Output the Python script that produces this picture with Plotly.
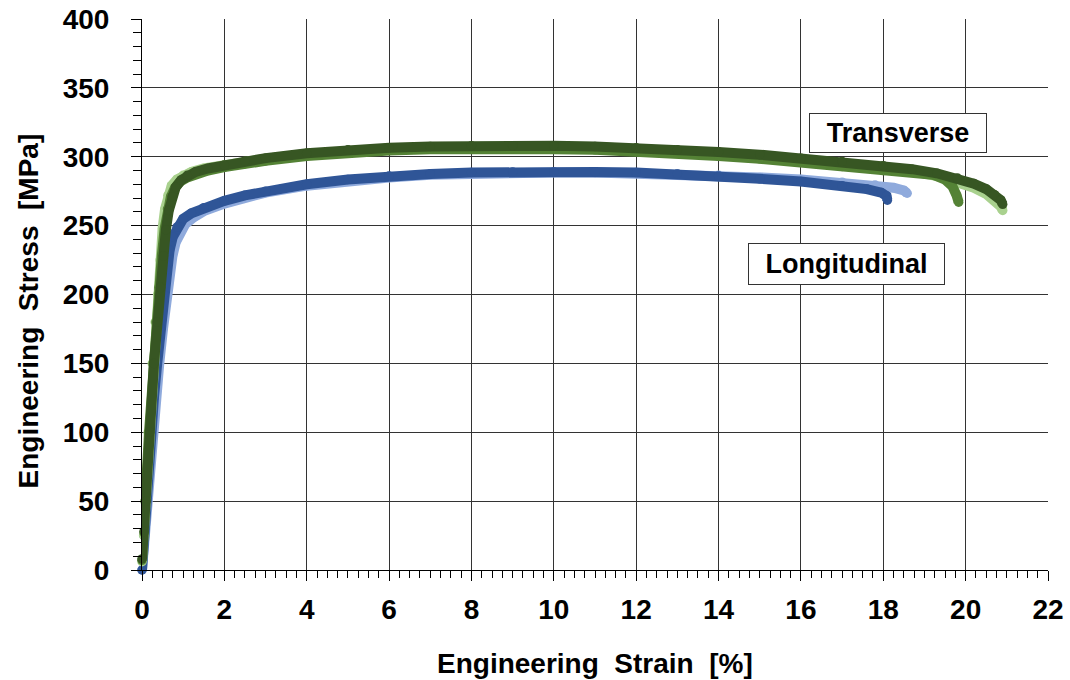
import plotly.graph_objects as go

# Longitudinal specimens (strain in %, stress in MPa)
long_a_strain = [0, 0.05, 0.1, 0.16, 0.21, 0.29, 0.37, 0.45, 0.53, 0.6, 0.67, 0.75, 0.85, 1.0, 1.2, 1.5,
                 2.0, 2.5, 3, 4, 5, 6, 7, 8, 9, 10, 11, 12, 13, 14, 15, 16, 17, 17.6, 17.95, 18.08, 18.1]
long_a_stress = [0, 25, 50, 75, 100, 125, 150, 175, 200, 218, 232, 242, 249, 255, 259, 263,
                 268, 272, 275, 280, 283.5, 286, 287.5, 288.5, 289, 289, 289, 288.5, 287.5, 286, 284, 282, 279,
                 276.5, 274, 271.5, 268.5]

long_b_strain = [0, 0.06, 0.12, 0.18, 0.24, 0.33, 0.42, 0.51, 0.6, 0.67, 0.74, 0.82, 0.92, 1.05, 1.25, 1.5,
                 2.0, 2.5, 3, 4, 5, 6, 7, 8, 9, 10, 11, 12, 13, 14, 15, 16, 17, 17.8, 18.25, 18.5, 18.58]
long_b_stress = [0, 25, 50, 75, 100, 125, 150, 175, 200, 215, 228, 238, 245, 251, 256, 260.5,
                 266, 270.5, 274, 279, 282.5, 285, 287, 288, 288.5, 288.5, 288.5, 288, 287.5, 286.5, 285, 283.5,
                 281.5, 279.5, 277.5, 275.5, 273.5]

# Transverse specimens
trans_a_strain = [0, 0.05, 0.1, 0.19, 0.29, 0.37, 0.45, 0.52, 0.58, 0.65, 0.73, 0.82, 0.95, 1.1, 1.3, 1.6,
                  2.0, 2.5, 3, 4, 5, 6, 7, 8, 9, 10, 11, 12, 13, 14, 15, 16, 17, 18, 18.7, 19.3, 19.8,
                  20.2, 20.5, 20.7, 20.85, 20.9]
trans_a_stress = [8, 28, 50, 100, 150, 180, 205, 228, 247, 261, 271, 278, 283, 286.5, 289, 291.5,
                  294, 297, 299, 302.5, 305, 306.5, 307.5, 308, 308, 308, 307.5, 306.5, 305, 303.5, 301.5, 299,
                  296.5, 293.5, 291, 288, 284.5, 280.5, 276.5, 272.5, 268.5, 265.5]

trans_b_strain = [0, 0.05, 0.08, 0.17, 0.27, 0.34, 0.41, 0.48, 0.55, 0.62, 0.7, 0.8, 0.93, 1.1, 1.3, 1.6,
                  2.0, 2.5, 3, 4, 5, 6, 7, 8, 9, 10, 11, 12, 13, 14, 15, 16, 17, 18, 18.7, 19.2, 19.5,
                  19.68, 19.78, 19.83]
trans_b_stress = [7, 27, 50, 100, 150, 180, 205, 228, 248, 262, 271, 277.5, 282, 285, 287.5, 290,
                  292.5, 295, 297, 300.5, 303, 304.5, 305.5, 306, 306, 305.5, 305, 304, 302.5, 300.5, 298.5,
                  296, 293, 290, 289, 287, 283.5, 278.5, 272, 267]

trans_c_strain = [0, 0.04, 0.07, 0.15, 0.25, 0.32, 0.38, 0.44, 0.5, 0.56, 0.63, 0.72, 0.85, 1.0, 1.2, 1.5,
                  2.0, 2.5, 3, 4, 5, 6, 7, 8, 9, 10, 11, 12, 13, 14, 15, 16, 17, 18, 18.7, 19.3, 19.8,
                  20.2, 20.5, 20.7, 20.85, 20.9]
trans_c_stress = [6, 25, 50, 100, 150, 180, 200, 225, 248, 262, 272, 279, 283.5, 286.5, 289, 291.5,
                  294, 296.5, 298.5, 302, 304.5, 306, 307, 307.5, 307.5, 307.5, 307, 306, 304.5, 302.5, 300.5,
                  298, 295.5, 292.5, 289.5, 286, 282, 277.5, 273, 268.5, 264, 261]

x_ticks = list(range(0, 23, 2))
y_ticks = list(range(0, 401, 50))

FONT = "Liberation Sans, Arial, sans-serif"
NB = "\u00a0"

series = [
    (long_b_strain, long_b_stress, "#8FAADC", "Longitudinal B"),
    (long_a_strain, long_a_stress, "#2F5597", "Longitudinal A"),
    (trans_c_strain, trans_c_stress, "#A9D18E", "Transverse C"),
    (trans_b_strain, trans_b_stress, "#548235", "Transverse B"),
    (trans_a_strain, trans_a_stress, "#375623", "Transverse A"),
]

fig = go.Figure()
for xs, ys, color, name in series:
    fig.add_trace(go.Scatter(
        x=xs, y=ys, name=name, mode="lines+markers",
        line=dict(color=color, width=10),
        marker=dict(color=color, size=9.5, line=dict(width=0)),
        cliponaxis=False, showlegend=False,
    ))

axis_common = dict(
    showline=True, linecolor="black", linewidth=1,
    showgrid=True, gridcolor="#333333", gridwidth=1,
    zeroline=False, ticks="outside", ticklen=10, tickcolor="black", tickwidth=1,
    tickfont=dict(family=FONT, size=28, color="black", weight="bold"),
    automargin=False,
)

fig.update_xaxes(
    range=[0, 22], tickvals=x_ticks, ticktext=[str(v) for v in x_ticks],
    minor=dict(dtick=0.25, ticks="outside", ticklen=7, tickcolor="black", showgrid=False),
    ticklabelstandoff=4, **axis_common,
)
fig.update_yaxes(
    range=[0, 400], tickvals=y_ticks, ticktext=[str(v) for v in y_ticks],
    minor=dict(dtick=10, ticks="outside", ticklen=8, tickcolor="black", showgrid=False),
    ticklabelstandoff=16, **axis_common,
)

title_font = dict(family=FONT, size=28, color="black", weight="bold")
label_font = dict(family=FONT, size=27, color="black", weight="bold")

annotations = [
    dict(text=f"Engineering{NB}{NB}Strain{NB}{NB}[%]", xref="paper", yref="paper", x=0.5, y=0,
         yshift=-93, xanchor="center", yanchor="middle", showarrow=False, font=title_font),
    dict(text=f"Engineering{NB}{NB}Stress{NB}{NB}[MPa]", xref="paper", yref="paper", x=0, y=0.5,
         xshift=-114, yshift=-17, xanchor="center", yanchor="middle", textangle=-90,
         showarrow=False, font=title_font),
    dict(text="Transverse", x=18.36, y=317, xref="x", yref="y", showarrow=False,
         font=label_font, bgcolor="white", bordercolor="#333333", borderwidth=1,
         borderpad=2, width=172, height=34),
    dict(text="Longitudinal", x=17.1, y=222, xref="x", yref="y", showarrow=False,
         font=label_font, bgcolor="white", bordercolor="#333333", borderwidth=1,
         borderpad=2, width=191, height=36),
]

fig.update_layout(
    width=1070, height=680,
    margin=dict(l=142, r=22, t=19, b=110),
    paper_bgcolor="white", plot_bgcolor="white",
    annotations=annotations,
    showlegend=False,
)

fig.write_html("out.html")
